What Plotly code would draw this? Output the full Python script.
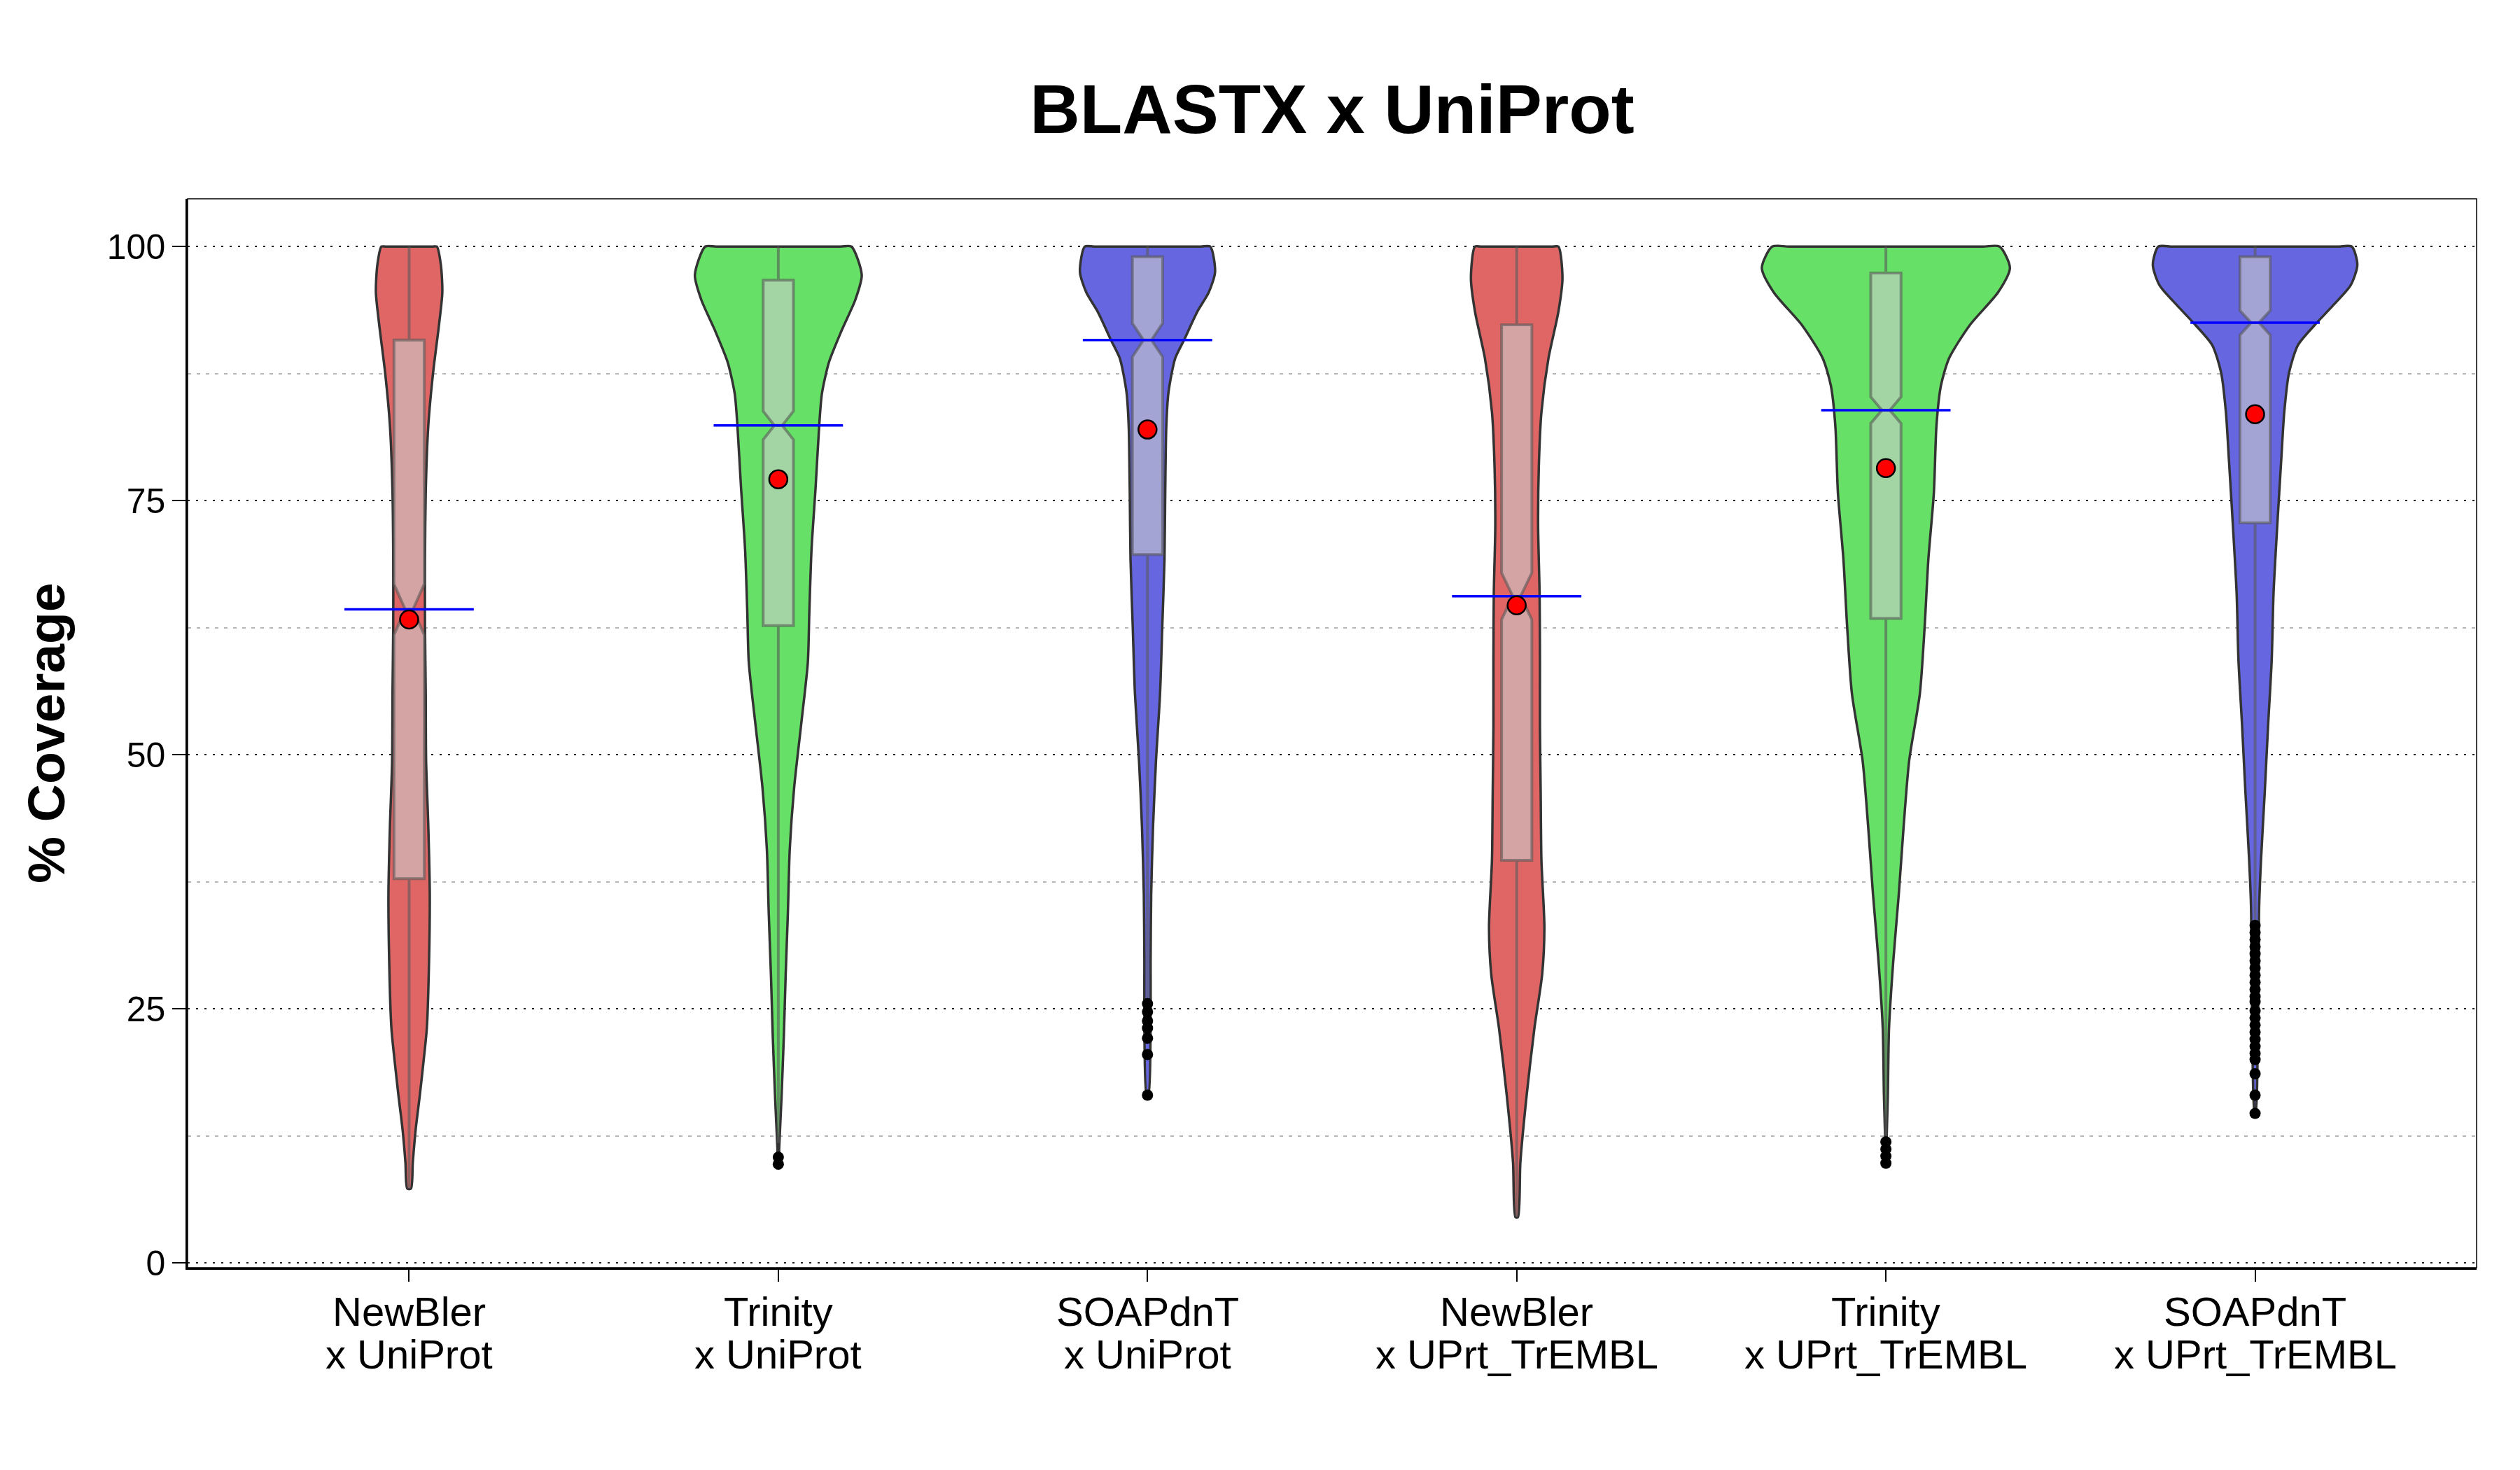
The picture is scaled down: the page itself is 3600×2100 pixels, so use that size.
import plotly.graph_objects as go

# ---------------- data ----------------
label_line1 = ["NewBler", "Trinity", "SOAPdnT", "NewBler", "Trinity", "SOAPdnT"]
label_line2 = ["x UniProt", "x UniProt", "x UniProt", "x UPrt_TrEMBL", "x UPrt_TrEMBL", "x UPrt_TrEMBL"]
violin_colors = ["#E06666", "#66E066", "#6666E0", "#E06666", "#66E066", "#6666E0"]

means = [63.3, 77.1, 82.0, 64.7, 78.2, 83.5]
medians = [64.3, 82.4, 90.8, 65.6, 83.9, 92.5]
q1 = [37.8, 62.7, 69.7, 39.6, 63.4, 72.8]
q3 = [90.8, 96.7, 99.0, 92.3, 97.4, 99.0]
lower_whisker = [7.3, 11.8, 26.0, 4.5, 12.5, 33.6]
upper_whisker = [100, 100, 100, 100, 100, 100]
notch_half = [2.5, 1.4, 1.65, 2.3, 1.3, 1.2]

# violin outlines: coverage level and half-width (x-axis units)
nb_up_y = [100, 98.2, 95.5, 92.3, 87.6, 82.4, 75.8, 69.2, 62.6, 56.0, 49.4, 42.9, 36.3, 29.7, 23.1, 19.8, 16.5, 13.2, 9.9, 7.3]
nb_up_w = [0.075, 0.086, 0.090, 0.081, 0.065, 0.052, 0.045, 0.043, 0.043, 0.045, 0.046, 0.052, 0.056, 0.054, 0.048, 0.039, 0.029, 0.018, 0.010, 0.005]

tr_up_y = [100, 97.2, 94.8, 91.7, 88.6, 85.5, 82.5, 76.3, 70.2, 64.0, 59.1, 53.0, 46.8, 40.7, 34.5, 28.4, 22.3, 16.1, 11.2, 9.7]
tr_up_w = [0.198, 0.226, 0.209, 0.171, 0.137, 0.118, 0.111, 0.101, 0.090, 0.084, 0.080, 0.062, 0.043, 0.031, 0.026, 0.020, 0.015, 0.0085, 0.0023, 0.001]

so_up_y = [100, 97.5, 95.5, 93.6, 90.8, 89.0, 85.7, 82.4, 75.8, 69.2, 62.6, 56.0, 49.4, 42.9, 36.3, 29.7, 25.7, 16.5]
so_up_w = [0.170, 0.183, 0.166, 0.135, 0.099, 0.075, 0.057, 0.051, 0.048, 0.046, 0.040, 0.034, 0.023, 0.015, 0.010, 0.0085, 0.0085, 0.0023]

nb_tr_y = [100, 96.9, 93.6, 89.0, 83.7, 78.4, 72.5, 65.9, 59.3, 52.7, 46.2, 39.6, 33.0, 28.4, 23.1, 16.5, 9.9, 4.5]
nb_tr_w = [0.113, 0.124, 0.113, 0.086, 0.067, 0.060, 0.058, 0.062, 0.063, 0.063, 0.065, 0.067, 0.075, 0.069, 0.048, 0.027, 0.010, 0.0034]

tr_tr_y = [100, 97.9, 95.5, 92.3, 89.0, 86.3, 82.4, 75.8, 69.2, 62.6, 56.0, 49.4, 42.9, 36.3, 29.7, 23.1, 16.5, 12.6, 9.8]
tr_tr_w = [0.308, 0.336, 0.304, 0.228, 0.171, 0.149, 0.137, 0.130, 0.115, 0.105, 0.092, 0.063, 0.048, 0.035, 0.020, 0.0085, 0.0053, 0.0023, 0.001]

so_tr_y = [100, 98.2, 96.2, 94.2, 92.3, 90.3, 87.6, 83.7, 79.1, 72.5, 65.9, 59.3, 52.7, 46.2, 39.6, 35.0, 29.7, 16.5, 14.7]
so_tr_w = [0.262, 0.277, 0.259, 0.211, 0.162, 0.116, 0.092, 0.079, 0.071, 0.060, 0.050, 0.045, 0.035, 0.026, 0.016, 0.011, 0.0098, 0.0047, 0.001]

violin_y = [nb_up_y, tr_up_y, so_up_y, nb_tr_y, tr_tr_y, so_tr_y]
violin_w = [nb_up_w, tr_up_w, so_up_w, nb_tr_w, tr_tr_w, so_tr_w]

# outliers
out_nb_up = []
out_tr_up = [10.4, 9.7]
out_so_up = [25.5, 24.7, 23.8, 23.1, 22.1, 20.5, 16.5]
out_nb_tr = []
out_tr_tr = [11.9, 11.2, 10.5, 9.8]
out_so_tr = [33.2, 32.5, 31.8, 31.1, 30.4, 29.7, 29.0, 28.3, 27.6, 26.9, 26.2, 25.7,
             24.8, 24.1, 23.4, 22.7, 22.0, 21.3, 20.6, 20.0, 18.6, 16.5, 14.7]
outliers = [out_nb_up, out_tr_up, out_so_up, out_nb_tr, out_tr_tr, out_so_tr]

ytick_vals = [0, 25, 50, 75, 100]
yminor_vals = [12.5, 37.5, 62.5, 87.5]

# ---------------- figure ----------------
FONT = "Liberation Sans, Arial, Helvetica, sans-serif"
fig = go.Figure()

# violins (base axes): closed outline starting at the middle of the flat top
for i, (ys, ws) in enumerate(zip(violin_y, violin_w)):
    top, w0 = ys[0], ws[0]
    xs = [i, i - 0.85 * w0] + [i - w for w in ws] + [i + w for w in reversed(ws)] + [i + 0.85 * w0, i]
    yy = [top, top] + list(ys) + list(reversed(ys)) + [top, top]
    fig.add_trace(go.Scatter(
        x=xs, y=yy, mode="lines", fill="toself", fillcolor=violin_colors[i],
        line=dict(color="#333333", width=3.5, shape="spline", smoothing=0.7),
        hoverinfo="skip", showlegend=False))

# notched boxes (overlay axes so they sit above the violins)
fig.add_trace(go.Box(
    x=list(range(6)), q1=q1, median=medians, q3=q3,
    lowerfence=lower_whisker, upperfence=upper_whisker,
    notchspan=notch_half, notched=True, notchwidth=0.37,
    width=0.082, whiskerwidth=0, boxpoints=False,
    fillcolor="rgba(204,204,204,0.6)",
    line=dict(color="rgba(89,89,89,0.6)", width=4),
    xaxis="x2", yaxis="y2", showlegend=False))

# median blue lines
fig.add_trace(go.Scatter(
    x=list(range(6)), y=medians, mode="markers",
    marker=dict(symbol="line-ew", size=132, line=dict(color="#0000FF", width=3.5)),
    xaxis="x2", yaxis="y2", showlegend=False, hoverinfo="skip"))

# outliers
ox, oy = [], []
for i, vals in enumerate(outliers):
    for v in vals:
        ox.append(i)
        oy.append(v)
fig.add_trace(go.Scatter(
    x=ox, y=oy, mode="markers",
    marker=dict(color="black", size=16, line=dict(width=0)),
    xaxis="x2", yaxis="y2", showlegend=False))

# means
fig.add_trace(go.Scatter(
    x=list(range(6)), y=means, mode="markers",
    marker=dict(color="#FF0000", size=26, line=dict(color="black", width=2.5)),
    xaxis="x2", yaxis="y2", showlegend=False))

XR = [-0.6, 5.6]
YR = [-0.48, 104.7]

annotations = [dict(text="<b>% Coverage</b>", textangle=-90, xref="paper", yref="paper",
                    x=-0.062, y=0.5, xanchor="center", yanchor="middle", showarrow=False,
                    font=dict(size=75, family=FONT, color="black"))]
for i in range(6):
    annotations.append(dict(text=label_line1[i], x=i, xref="x", y=0, yref="paper",
                            yanchor="middle", xanchor="center", yshift=-62, showarrow=False,
                            font=dict(size=58, family=FONT, color="black")))
    annotations.append(dict(text=label_line2[i], x=i, xref="x", y=0, yref="paper",
                            yanchor="middle", xanchor="center", yshift=-123, showarrow=False,
                            font=dict(size=58, family=FONT, color="black")))

fig.update_layout(
    width=3600, height=2100,
    margin=dict(l=268, r=62, t=284, b=289),
    paper_bgcolor="white", plot_bgcolor="white",
    font=dict(family=FONT, color="black"),
    title=dict(text="<b>BLASTX x UniProt</b>", x=0.5, xref="paper", xanchor="center",
               y=1 - 155 / 2100, yref="container", yanchor="middle",
               font=dict(size=99, family=FONT, color="black")),
    xaxis=dict(range=XR, tickmode="array", tickvals=list(range(6)), showticklabels=False,
               showgrid=False, zeroline=False, showline=True, linecolor="black", linewidth=2.5,
               ticks="outside", ticklen=17, tickwidth=2, tickcolor="black"),
    yaxis=dict(range=YR, tickmode="array", tickvals=ytick_vals,
               showgrid=True, gridcolor="#222222", gridwidth=1.5, griddash="3px,9px",
               zeroline=False, showline=True, linecolor="black", linewidth=2.5,
               ticks="outside", ticklen=19, tickwidth=2, tickcolor="black",
               tickfont=dict(size=50, family=FONT, color="black"),
               minor=dict(tickmode="array", tickvals=yminor_vals, showgrid=True,
                          gridcolor="#b5b5b5", gridwidth=1.5, griddash="5px,8px", ticks="")),
    xaxis2=dict(range=XR, overlaying="x", visible=False, showgrid=False, zeroline=False),
    yaxis2=dict(range=YR, overlaying="y", visible=False, showgrid=False, zeroline=False),
    shapes=[dict(type="rect", xref="paper", yref="paper", x0=0, y0=0, x1=1, y1=1,
                 line=dict(color="black", width=1.5), layer="above")],
    annotations=annotations,
)

fig.write_html("out.html", config={"displayModeBar": False},
               post_script="document.body.style.margin='0px';")
